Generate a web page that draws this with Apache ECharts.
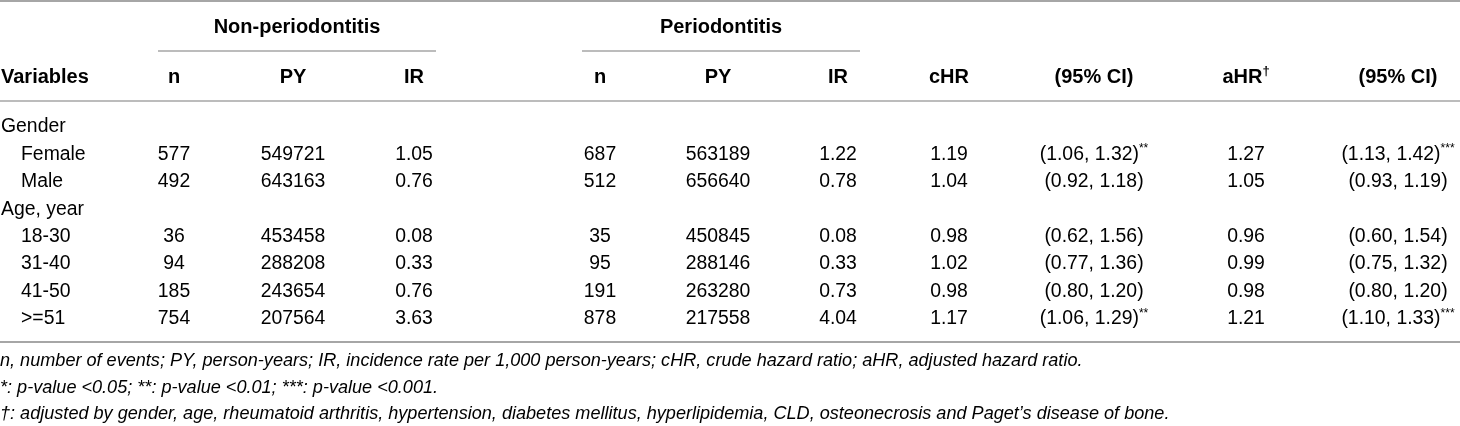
<!DOCTYPE html>
<html>
<head>
<meta charset="utf-8">
<script src="https://cdn.jsdelivr.net/npm/echarts@6/dist/echarts.min.js"></script>
<style>
  html, body { margin: 0; padding: 0; background: #fff; }
  #tbl { width: 1460px; height: 426px; }
</style>
</head>
<body>
<div id="tbl"></div>
<script>
// table values
const groupHeads = ['Non-periodontitis', 'Periodontitis']
const colHeads = ['Variables', 'n', 'PY', 'IR', 'n', 'PY', 'IR', 'cHR', '(95% CI)', 'aHR', '(95% CI)']
const rowLabels = ['Gender', 'Female', 'Male', 'Age, year', '18-30', '31-40', '41-50', '>=51']
const isSection = [true, false, false, true, false, false, false, false]

const nonN = [null, 577, 492, null, 36, 94, 185, 754]
const nonPY = [null, 549721, 643163, null, 453458, 288208, 243654, 207564]
const nonIR = [null, 1.05, 0.76, null, 0.08, 0.33, 0.76, 3.63]
const perN = [null, 687, 512, null, 35, 95, 191, 878]
const perPY = [null, 563189, 656640, null, 450845, 288146, 263280, 217558]
const perIR = [null, 1.22, 0.78, null, 0.08, 0.33, 0.73, 4.04]
const cHR = [null, 1.19, 1.04, null, 0.98, 1.02, 0.98, 1.17]
const cLow = [null, 1.06, 0.92, null, 0.62, 0.77, 0.80, 1.06]
const cHigh = [null, 1.32, 1.18, null, 1.56, 1.36, 1.20, 1.29]
const cSig = [null, '**', '', null, '', '', '', '**']
const aHR = [null, 1.27, 1.05, null, 0.96, 0.99, 0.98, 1.21]
const aLow = [null, 1.13, 0.93, null, 0.60, 0.75, 0.80, 1.10]
const aHigh = [null, 1.42, 1.19, null, 1.54, 1.32, 1.20, 1.33]
const aSig = [null, '***', '', null, '', '', '', '***']

const footnotes = [
  'n, number of events; PY, person-years; IR, incidence rate per 1,000 person-years; cHR, crude hazard ratio; aHR, adjusted hazard ratio.',
  '*: p-value <0.05; **: p-value <0.01; ***: p-value <0.001.',
  '\u2020: adjusted by gender, age, rheumatoid arthritis, hypertension, diabetes mellitus, hyperlipidemia, CLD, osteonecrosis and Paget\u2019s disease of bone.'
]

// layout (pixels of the 1460x426 page, mapped through the axes)
const colX = [1, 174, 293, 414, 600, 718, 838, 949, 1094, 1246, 1398]
const groupX = [297, 721]
const groupLine = [[158, 436], [582, 860]]
const yGroup = 27, yHead = 77, yRow0 = 127, rowStep = 27.4, yFoot0 = 361, footStep = 26.5
const rules = [
  { x1: 0, x2: 1460, y: 1, w: 2.2 },
  { x1: groupLine[0][0], x2: groupLine[0][1], y: 51, w: 1.4 },
  { x1: groupLine[1][0], x2: groupLine[1][1], y: 51, w: 1.4 },
  { x1: 0, x2: 1460, y: 101, w: 1.6 },
  { x1: 0, x2: 1460, y: 342, w: 2 }
]

const FONT = '"Liberation Sans", Arial, Helvetica, sans-serif'
const rich = {
  b: { fontFamily: FONT, fontSize: 20, fontWeight: 'bold', color: '#222', lineHeight: 24 },
  r: { fontFamily: FONT, fontSize: 19.4, color: '#333', lineHeight: 23 },
  sup: { fontFamily: FONT, fontSize: 12, color: '#333', verticalAlign: 'top', lineHeight: 12 },
  supb: { fontFamily: FONT, fontSize: 13, fontWeight: 'bold', color: '#222', verticalAlign: 'top', lineHeight: 13 },
  it: { fontFamily: FONT, fontSize: 18.1, fontStyle: 'italic', color: '#333', lineHeight: 22 }
}

const cells = []
function addCell(x, y, text, align) { cells.push({ x: x, y: y, text: text, align: align || 'center' }) }

groupHeads.forEach((g, i) => addCell(groupX[i], yGroup, '{b|' + g + '}'))
colHeads.forEach((h, i) => {
  let t = '{b|' + h + '}'
  if (h === 'aHR') t += '{supb|\u2020}'
  addCell(colX[i], yHead, t, i === 0 ? 'left' : 'center')
})

const fmt2 = v => v.toFixed(2)
rowLabels.forEach((lab, r) => {
  const y = yRow0 + r * rowStep
  addCell(isSection[r] ? colX[0] : colX[0] + 20, y, '{r|' + lab + '}', 'left')
  if (isSection[r]) return
  addCell(colX[1], y, '{r|' + nonN[r] + '}')
  addCell(colX[2], y, '{r|' + nonPY[r] + '}')
  addCell(colX[3], y, '{r|' + fmt2(nonIR[r]) + '}')
  addCell(colX[4], y, '{r|' + perN[r] + '}')
  addCell(colX[5], y, '{r|' + perPY[r] + '}')
  addCell(colX[6], y, '{r|' + fmt2(perIR[r]) + '}')
  addCell(colX[7], y, '{r|' + fmt2(cHR[r]) + '}')
  addCell(colX[8], y, '{r|(' + fmt2(cLow[r]) + ', ' + fmt2(cHigh[r]) + ')}' + (cSig[r] ? '{sup|' + cSig[r] + '}' : ''))
  addCell(colX[9], y, '{r|' + fmt2(aHR[r]) + '}')
  addCell(colX[10], y, '{r|(' + fmt2(aLow[r]) + ', ' + fmt2(aHigh[r]) + ')}' + (aSig[r] ? '{sup|' + aSig[r] + '}' : ''))
})
footnotes.forEach((f, i) => addCell(0, yFoot0 + i * footStep, '{it|' + f + '}', 'left'))

const chart = echarts.init(document.getElementById('tbl'))
chart.setOption({
  animation: false,
  grid: { left: 0, right: 0, top: 0, bottom: 0 },
  xAxis: { type: 'value', min: 0, max: 1460, show: false },
  yAxis: { type: 'value', min: 0, max: 426, inverse: true, show: false },
  series: [
    {
      type: 'custom',
      name: 'rules',
      data: rules.map(l => [l.x1, l.y, l.x2, l.w]),
      renderItem: function (params, api) {
        const a = api.coord([api.value(0), api.value(1)])
        const b = api.coord([api.value(2), api.value(1)])
        return {
          type: 'line',
          shape: { x1: a[0], y1: a[1], x2: b[0], y2: b[1] },
          style: { stroke: '#a6a6a6', lineWidth: api.value(3) }
        }
      }
    },
    {
      type: 'custom',
      name: 'cells',
      data: cells.map(c => [c.x, c.y]),
      renderItem: function (params, api) {
        const c = cells[params.dataIndex]
        const p = api.coord([api.value(0), api.value(1)])
        return {
          type: 'text',
          x: p[0],
          y: p[1],
          style: {
            text: c.text,
            rich: rich,
            align: c.align,
            textAlign: c.align,
            verticalAlign: 'middle',
            textVerticalAlign: 'middle'
          }
        }
      }
    }
  ]
})
</script>
</body>
</html>
